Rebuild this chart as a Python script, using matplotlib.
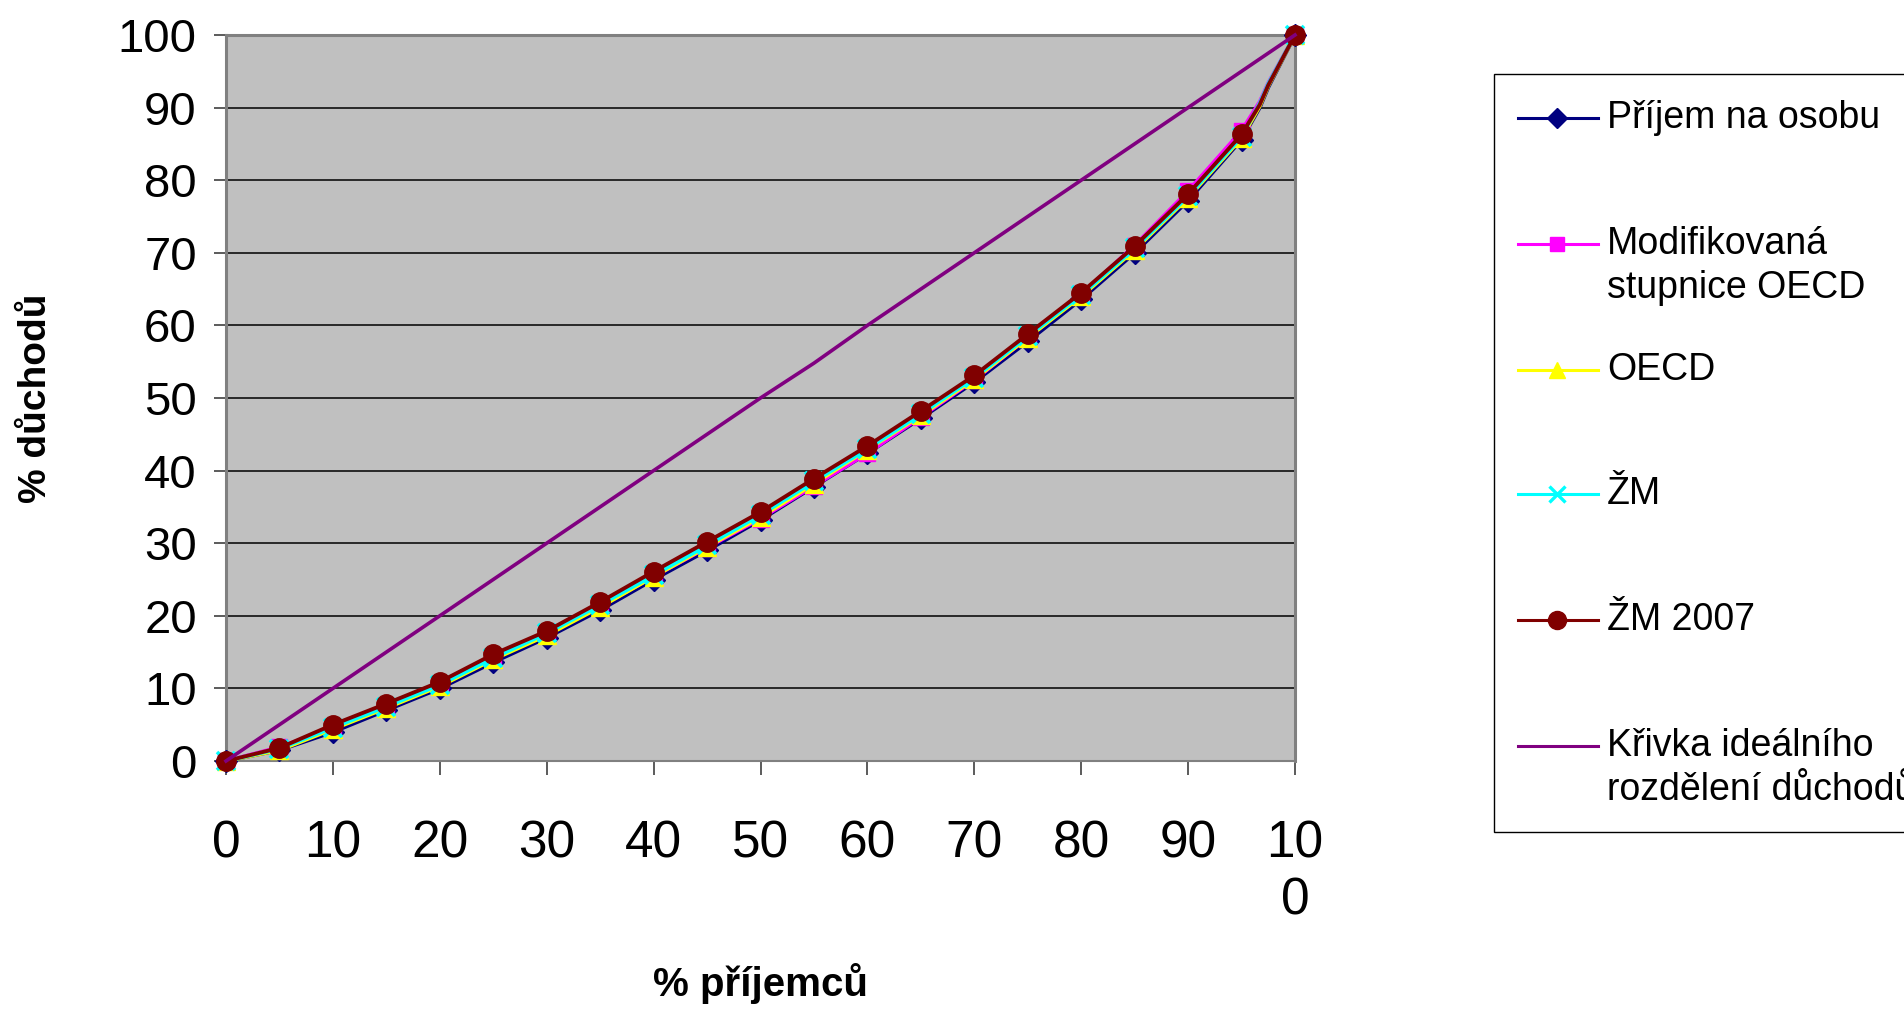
import matplotlib
matplotlib.use("Agg")
import matplotlib.pyplot as plt
from matplotlib.lines import Line2D
from matplotlib.patches import Rectangle

plt.rcParams['font.family'] = ['Liberation Sans', 'DejaVu Sans']

# data (% of recipients vs. cumulative % of income)
x_pts = [0, 5, 10, 15, 20, 25, 30, 35, 40, 45, 50, 55, 60, 65, 70, 75, 80, 85, 90, 95, 96.7, 97.5, 100]
prijem_na_osobu = [0, 1.5, 4.0, 7.0, 10.0, 13.6, 17.0, 20.8, 25.0, 29.0, 33.2, 37.8, 42.4, 47.2, 52.2, 57.8, 63.6, 70.0, 77.2, 85.6, 90.0, 92.8, 100]
modif_oecd = [0, 1.9, 4.6, 7.5, 10.5, 14.3, 17.6, 21.3, 25.4, 29.4, 33.4, 37.9, 42.4, 47.4, 52.5, 58.3, 64.3, 71.0, 78.5, 86.8, 90.8, 93.4, 100]
oecd = [0, 1.5, 4.4, 7.3, 10.3, 14.0, 17.3, 21.2, 25.4, 29.5, 33.6, 38.2, 42.9, 47.6, 52.6, 58.3, 64.0, 70.4, 77.6, 85.8, 90.2, 93.0, 100]
zm = [0, 1.7, 4.6, 7.5, 10.5, 14.2, 17.6, 21.5, 25.6, 29.7, 33.9, 38.5, 43.0, 47.8, 52.8, 58.5, 64.2, 70.6, 77.8, 86.0, 90.6, 93.3, 100]
zm_2007 = [0, 1.8, 5.0, 7.9, 10.9, 14.7, 17.9, 21.9, 26.1, 30.2, 34.3, 38.9, 43.4, 48.2, 53.1, 58.8, 64.5, 70.9, 78.1, 86.3, 90.4, 93.1, 100]
ideal_x = [0, 5, 10, 15, 20, 25, 30, 35, 40, 45, 50, 55, 60, 65, 70, 75, 80, 85, 90, 95, 100]
ideal_y = [0, 5, 10, 15, 20, 25, 30, 35, 40, 45, 50, 54.8, 60, 65, 70, 75, 80, 85, 90, 95, 100]

labels = ['Příjem na osobu', 'Modifikovaná\nstupnice OECD', 'OECD', 'ŽM', 'ŽM 2007',
          'Křivka ideálního\nrozdělení důchodů']
colors = ['#000080', '#FF00FF', '#FFFF00', '#00FFFF', '#800000', '#800080']
markers = ['D', 's', '^', 'x', 'o', None]
msizes = [11, 11, 13, 13, 14, 0]

x_ticks = [0, 10, 20, 30, 40, 50, 60, 70, 80, 90, 100]
x_ticklabels = ['0', '10', '20', '30', '40', '50', '60', '70', '80', '90', '10\n0']
y_ticks = [0, 10, 20, 30, 40, 50, 60, 70, 80, 90, 100]

W, H = 1904, 1010
fig = plt.figure(figsize=(W / 100, H / 100), dpi=100)
ax = fig.add_axes([226 / W, 1 - 761 / H, (1295 - 226) / W, (761 - 35) / H])
ax.set_facecolor('#C0C0C0')

mark_idx = [i for i, v in enumerate(x_pts) if v % 5 == 0]
series = [prijem_na_osobu, modif_oecd, oecd, zm, zm_2007]
for k, ys in enumerate(series):
    ax.plot(x_pts, ys, color=colors[k], lw=2.8, marker=markers[k], ms=msizes[k],
            mec=colors[k], mfc=colors[k], mew=2.6 if markers[k] == 'x' else 1,
            markevery=mark_idx, clip_on=False, zorder=3 + k)
ax.plot(ideal_x, ideal_y, color=colors[5], lw=2.6, clip_on=False, zorder=9)

ax.set_xlim(0, 100)
ax.set_ylim(0, 100)
ax.set_yticks(y_ticks)
ax.set_xticks(x_ticks)
ax.set_xticklabels(x_ticklabels, fontsize=37, linespacing=1.22)
ax.tick_params(axis='y', labelsize=34, direction='out', length=9, width=1.2, pad=12, color='#404040')
ax.tick_params(axis='x', direction='out', length=10, width=1.2, pad=32, color='#404040')
ax.grid(axis='y', color='black', lw=1.1)
ax.set_axisbelow(True)
for s in ['top', 'right', 'left']:
    ax.spines[s].set_color('#808080')
    ax.spines[s].set_linewidth(2.2)
ax.spines['bottom'].set_color('#808080')
ax.spines['bottom'].set_linewidth(1.5)

ax.set_xlabel('% příjemců', fontsize=29, fontweight='bold', va='center')
ax.set_ylabel('% důchodů', fontsize=28, fontweight='bold', va='center')
ax.xaxis.set_label_coords(0.5, (761 - 983) / 726)
ax.yaxis.set_label_coords((36 - 226) / 1069, 0.5)


# legend drawn by hand so that two-line entries keep Excel's spacing
def fx(px):
    return px / W


def fy(py):
    return 1 - py / H


fig.add_artist(Rectangle((fx(1494), fy(832)), fx(600), (832 - 74) / H,
                         transform=fig.transFigure, facecolor='white',
                         edgecolor='black', lw=1.0, clip_on=False))
row_y = [118, 244, 370, 494, 620, 746]
for k in range(6):
    yy = fy(row_y[k])
    fig.add_artist(Line2D([fx(1518), fx(1598)], [yy, yy], transform=fig.transFigure,
                          color=colors[k], lw=2.2))
    if markers[k]:
        fig.add_artist(Line2D([fx(1557)], [yy], transform=fig.transFigure, color=colors[k],
                              marker=markers[k], ms=msizes[k] - 1, mec=colors[k], mfc=colors[k],
                              mew=2.4 if markers[k] == 'x' else 1, lw=0))
    lines = labels[k].split('\n')
    for j, t in enumerate(lines):
        fig.text(fx(1607), fy(row_y[k] + 10 + 44 * j), t, fontsize=27, va='baseline', ha='left')

fig.savefig('out.png', dpi=100)
